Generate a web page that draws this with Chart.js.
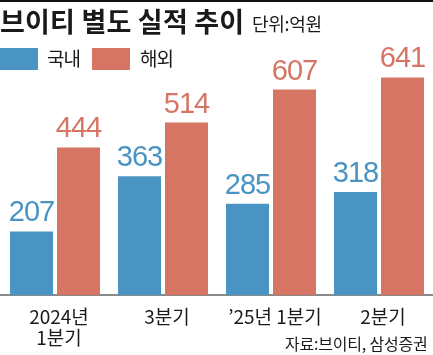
<!DOCTYPE html>
<html><head><meta charset="utf-8">
<script src="https://cdn.jsdelivr.net/npm/chart.js@4"></script>
<style>
html,body{margin:0;padding:0;background:#fff;width:433px;height:355px;overflow:hidden;}
#wrap{position:relative;width:433px;height:355px;}
canvas{position:absolute;left:0;top:0;}
.t{position:absolute;white-space:nowrap;font-family:"Noto Sans CJK KR",sans-serif;color:#1a1a1a;line-height:1;}
#topline{position:absolute;left:0;top:0;width:433px;height:2px;background:#111;}
#title{left:0;top:7px;font-size:27px;font-weight:700;letter-spacing:0.2px;}
#unit{left:252px;top:14px;font-size:18px;letter-spacing:-0.3px;}
.sw{position:absolute;top:48px;width:38px;height:22px;}
#l1{left:47px;top:48px;font-size:19px;letter-spacing:-1px;}
#l2{left:140px;top:48px;font-size:19px;letter-spacing:-1px;}
#src{left:285px;top:335px;font-size:16px;letter-spacing:-0.2px;}
</style></head>
<body><div id="wrap">
<canvas id="c" width="433" height="355"></canvas>
<div id="topline"></div>
<div class="t" id="title">브이티 별도 실적 추이</div>
<div class="t" id="unit">단위:억원</div>
<div class="sw" style="left:0;background:#4a94c3"></div>
<div class="t" id="l1">국내</div>
<div class="sw" style="left:92px;background:#d77565"></div>
<div class="t" id="l2">해외</div>
<div class="t" id="src">자료:브이티, 삼성증권</div>
</div>
<script>
const categories = [["2024년","1분기"], "3분기", "’25년 1분기", "2분기"];
const seriesNames = ["국내", "해외"];
const domestic = [207, 363, 285, 318];
const overseas = [444, 514, 607, 641];
const colors = ["#4a94c3", "#d77565"];

const valueLabels = {
  id: "valueLabels",
  afterDatasetsDraw(chart) {
    const ctx = chart.ctx;
    ctx.save();
    ctx.font = '29px "Liberation Sans Narrow", "Liberation Sans", sans-serif';
    ctx.textAlign = "center";
    ctx.textBaseline = "alphabetic";
    try { ctx.letterSpacing = "-1px"; } catch (e) {}
    chart.data.datasets.forEach((ds, i) => {
      const meta = chart.getDatasetMeta(i);
      ctx.fillStyle = ds.backgroundColor;
      meta.data.forEach((bar, j) => {
        ctx.fillText(String(ds.data[j]), bar.x, bar.y - 10);
      });
    });
    ctx.restore();
  }
};

new Chart(document.getElementById("c"), {
  type: "bar",
  data: {
    labels: categories,
    datasets: [
      { label: seriesNames[0], data: domestic, backgroundColor: colors[0] },
      { label: seriesNames[1], data: overseas, backgroundColor: colors[1] }
    ]
  },
  options: {
    responsive: false,
    animation: false,
    devicePixelRatio: 1,
    layout: { padding: { top: 75, left: 1, right: 0, bottom: 0 } },
    datasets: { bar: { barPercentage: 0.915, categoryPercentage: 0.87 } },
    plugins: { legend: { display: false }, tooltip: { enabled: false } },
    scales: {
      x: {
        afterFit(scale) { scale.height = 60; },
        grid: { display: false, drawTicks: false },
        border: { display: true, color: "#8a8a8a", width: 2 },
        ticks: {
          color: "#1a1a1a",
          padding: 11,
          labelOffset: 4,
          maxRotation: 0,
          autoSkip: false,
          font: { family: '"Noto Sans CJK KR", sans-serif', size: 19, lineHeight: 1.1 }
        }
      },
      y: { display: false, min: 28, max: 648 }
    }
  },
  plugins: [valueLabels]
});
</script>
</body></html>
